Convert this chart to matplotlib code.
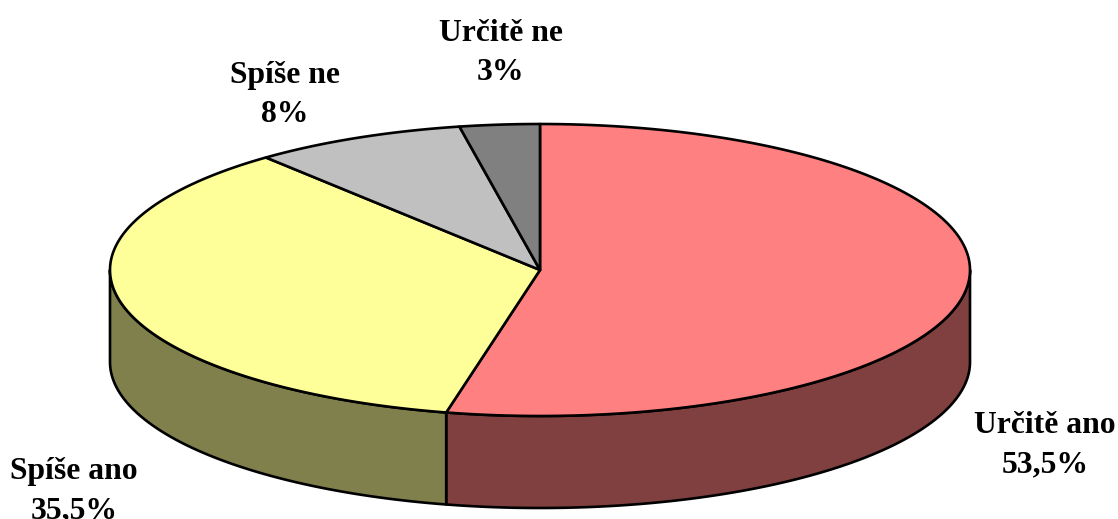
import numpy as np
import matplotlib
matplotlib.use("Agg")
import matplotlib.pyplot as plt

labels = ["Určitě ano", "Spíše ano", "Spíše ne", "Určitě ne"]
value_labels = ["53,5%", "35,5%", "8%", "3%"]
values = [53.5, 35.5, 8, 3]
top_colors = ["#FF8080", "#FFFF99", "#C0C0C0", "#808080"]
side_colors = ["#804040", "#80804D"]


def ellipse_pts(a, b, cx, cy, rx, ry, dy=0):
    # angles run clockwise from the top, in degrees
    t = np.radians(np.linspace(a, b, 300))
    return cx + rx * np.sin(t), cy - ry * np.cos(t) + dy


W, H = 1118, 519
fig = plt.figure(figsize=(W / 100, H / 100), dpi=100)
ax = fig.add_axes([0, 0, 1, 1])
ax.set_xlim(0, W)
ax.set_ylim(H, 0)
ax.axis("off")

cx, cy, rx, ry, depth = 540, 270, 430, 146, 92
lw = 1.9

cum = np.cumsum([0] + values) / sum(values) * 360

# side walls: only the part of each slice that faces the viewer
for i in range(len(values)):
    a = max(cum[i], 90)
    b = min(cum[i + 1], 270)
    if a >= b:
        continue
    x, y = ellipse_pts(a, b, cx, cy, rx, ry)
    x2, y2 = ellipse_pts(b, a, cx, cy, rx, ry, depth)
    ax.fill(np.r_[x, x2], np.r_[y, y2], facecolor=side_colors[i],
            edgecolor="black", linewidth=lw, joinstyle="round")

# top face
for i in range(len(values)):
    x, y = ellipse_pts(cum[i], cum[i + 1], cx, cy, rx, ry)
    ax.fill(np.r_[cx, x], np.r_[cy, y], facecolor=top_colors[i],
            edgecolor="black", linewidth=lw, joinstyle="round")

# the reference has its lowest label running into the bottom edge
label_pos = [(1045, 445), (74, 491), (285, 95), (501, 53)]
for i in range(len(labels)):
    ax.text(label_pos[i][0], label_pos[i][1], labels[i] + "\n" + value_labels[i],
            ha="center", va="center", family="Liberation Serif",
            fontweight="bold", fontsize=22.8, linespacing=1.47, clip_on=False)

plt.savefig("out.png", dpi=100)
